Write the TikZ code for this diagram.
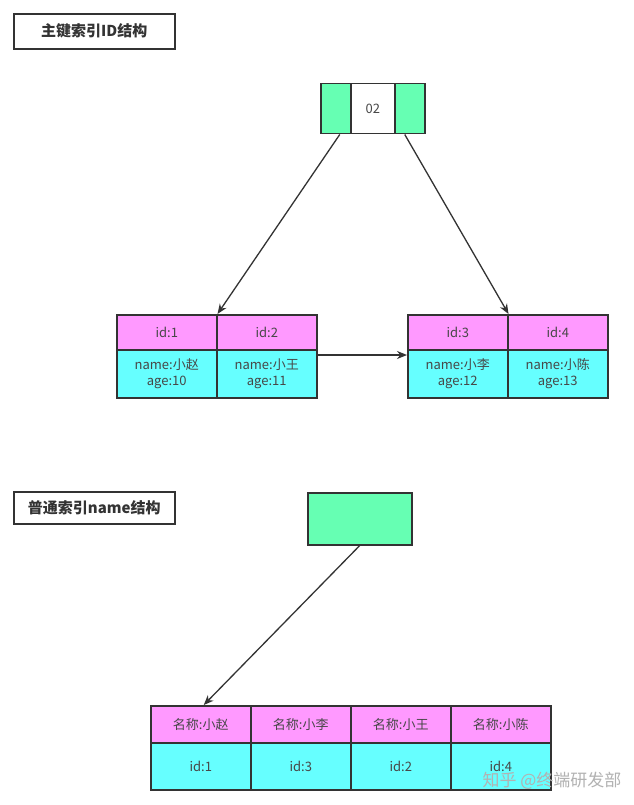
\documentclass[tikz,border=0pt]{standalone}
\usepackage{fontspec}
\setmainfont{Noto Sans CJK SC}
\newfontfamily\cjk{Noto Sans CJK SC}
\usetikzlibrary{arrows.meta}
\definecolor{cellpink}{HTML}{FF99FF}
\definecolor{cellcyan}{HTML}{66FFFF}
\definecolor{cellgreen}{HTML}{66FFB3}
\definecolor{edge}{HTML}{333333}

\tikzset{
  cellbox/.style={draw=edge,line width=1.5pt,anchor=north west,inner sep=0pt,
    align=center,text=edge!90,font=\cjk\fontsize{13}{16}\selectfont},
  headcell/.style={cellbox,fill=cellpink,minimum width=100pt},
  bodycell/.style={cellbox,fill=cellcyan,minimum width=100pt},
  titlebox/.style={draw=edge,line width=1.6pt,anchor=north west,inner sep=0pt,
    minimum width=161pt,text=edge,font=\cjk\bfseries\fontsize{15}{18}\selectfont},
  link/.style={draw=edge,line width=1.3pt,-{Stealth[length=10pt,width=8pt]}}
}

\begin{document}
\begin{tikzpicture}[x=1pt,y=-1pt]
\path[use as bounding box,fill=white] (0,0) rectangle (633,805);

% primary key index
\node[titlebox,minimum height=35pt] (title1) at (13,13) {主键索引ID结构};
\node[cellbox,fill=cellgreen,minimum width=30pt,minimum height=50pt] (rootl) at (320,83) {};
\node[cellbox,fill=white,minimum width=44pt,minimum height=50pt] (rootm) at (350,83) {02};
\node[cellbox,fill=cellgreen,minimum width=30pt,minimum height=50pt] (rootr) at (394,83) {};

\node[headcell,minimum height=35pt] (id1) at (116,314) {id:1};
\node[headcell,minimum height=35pt] (id2) at (216,314) {id:2};
\node[bodycell,minimum height=48pt] (row1) at (116,349) {name:小赵\\age:10};
\node[bodycell,minimum height=48pt] (row2) at (216,349) {name:小王\\age:11};

\node[headcell,minimum height=35pt] (id3) at (407,314) {id:3};
\node[headcell,minimum height=35pt] (id4) at (507,314) {id:4};
\node[bodycell,minimum height=48pt] (row3) at (407,349) {name:小李\\age:12};
\node[bodycell,minimum height=48pt] (row4) at (507,349) {name:小陈\\age:13};

\draw[link] ([xshift=4pt]rootl.south) -- (id1.north east);
\draw[link] ([xshift=-5pt]rootr.south) -- (id3.north east);
\draw[link] ([yshift=-6pt]row2.north east) -- ([yshift=-6pt]row3.north west);

% secondary index on name
\node[titlebox,minimum height=32pt] (title2) at (13,491) {普通索引name结构};
\node[cellbox,fill=cellgreen,minimum width=104pt,minimum height=52pt] (root2) at (307,492) {};

\node[headcell,minimum height=37pt] (nm1) at (150,705) {名称:小赵};
\node[headcell,minimum height=37pt] (nm2) at (250,705) {名称:小李};
\node[headcell,minimum height=37pt] (nm3) at (350,705) {名称:小王};
\node[headcell,minimum height=37pt] (nm4) at (450,705) {名称:小陈};
\node[bodycell,minimum height=47pt] (key1) at (150,742) {id:1};
\node[bodycell,minimum height=47pt] (key2) at (250,742) {id:3};
\node[bodycell,minimum height=47pt] (key3) at (350,742) {id:2};
\node[bodycell,minimum height=47pt] (key4) at (450,742) {id:4};

\draw[link] (root2.south) -- ([xshift=3pt]nm1.north);

\node[text=black!30,font=\cjk\fontsize{17}{20}\selectfont] (mark) at (552,781) {知乎 @终端研发部};
\end{tikzpicture}
\end{document}
